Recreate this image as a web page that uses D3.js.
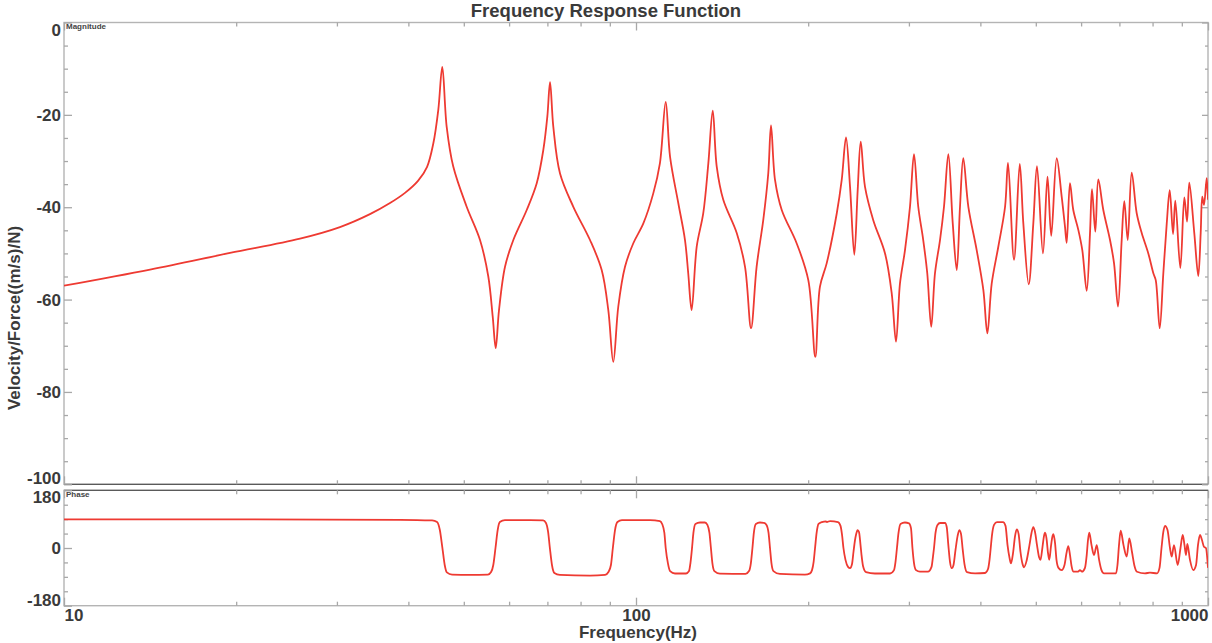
<!DOCTYPE html>
<html>
<head>
<meta charset="utf-8">
<script src="https://cdn.jsdelivr.net/npm/d3@7"></script>
<style>
  body { margin: 0; background: #fff; }
  text { font-family: "Liberation Sans", Arial, sans-serif; }
</style>
</head>
<body>
<svg id="chart" width="1212" height="643"></svg>
<script>
// magnitude curve (Hz, dB)
var magFreq = [
  10, 14.14, 19.51, 25.86, 30.37, 34.27, 37.15, 39.46, 41.58, 43.11, 44.22,
  45.12, 45.85, 46.67, 47.92, 50.58, 53.37, 55.18, 56.17, 56.85, 57.61,
  59.02, 61.03, 64.41, 67.06, 68.86, 69.98, 70.75, 71.69, 73.65, 77.7,
  83.1, 87.1, 89.45, 91.26, 93.12, 95.67, 98.92, 103.0, 107.2, 110.1,
  112.7, 114.7, 118.6, 121.8, 123.4, 125.1, 127.7, 131.1, 133.8, 136.2,
  138.4, 142.1, 150.0, 155.1, 158.9, 162.5, 166.9, 170.3, 172.2, 175.0,
  179.8, 190.9, 200.1, 205.8, 209.7, 215.5, 224.4, 228.9, 232.9, 236.7,
  240.8, 244.1, 247.1, 251.4, 259.9, 272.5, 279.9, 284.8, 289.4, 295.3,
  301.3, 306.2, 311.5, 317.8, 323.0, 328.2, 333.2, 340.0, 345.5, 351.6,
  357.9, 363.7, 368.5, 373.4, 381.1, 394.1, 404.8, 411.4, 418.7, 430.0,
  441.8, 447.1, 458.0, 468.7, 475.5, 485.9, 495.0, 502.4, 514.6, 524.1,
  532.0, 543.9, 554.9, 562.3, 566.2, 573.7, 581.4, 593.3, 602.9, 613.7,
  621.9, 626.9, 635.3, 643.0, 656.1, 674.1, 685.0, 696.1, 706.5, 714.0,
  723.8, 735.6, 750.5, 765.8, 786.4, 802.5, 810.3, 823.3, 835.4, 847.0,
  857.2, 868.7, 876.7, 894.6, 909.1, 919.0, 927.5, 946.3, 961.6, 971.0,
  977.2, 984.0, 994.7, 1000
];
var magDb = [
  -57.0, -53.5, -49.9, -46.8, -44.3, -41.5, -39.1, -36.9, -34.3, -31.3, -26.2,
  -18.9, -9.6, -22.6, -31.2, -39.9, -47.1, -55.0, -63.7, -70.5, -62.3,
  -52.9, -47.1, -40.6, -34.8, -27.6, -20.4, -12.9, -22.6, -32.7, -39.9,
  -47.1, -53.6, -62.3, -73.5, -61.5, -52.9, -47.8, -43.5, -37.0, -30.5,
  -17.2, -29.1, -39.2, -47.1, -54.3, -62.3, -48.5, -41.3, -30.5, -19.1,
  -31.2, -38.4, -45.6, -52.9, -66.2, -52.9, -42.8, -32.7, -22.3, -34.1,
  -40.6, -47.8, -55.8, -72.4, -57.2, -52.1, -41.3, -34.1, -24.9, -35.6,
  -50.3, -36.3, -25.8, -35.6, -42.8, -50.0, -58.6, -69.1, -56.5, -49.3,
  -39.9, -28.5, -39.9, -47.1, -54.3, -65.9, -54.3, -47.1, -39.9, -28.5,
  -43.5, -53.6, -39.9, -29.4, -39.9, -49.3, -57.9, -67.3, -56.5, -48.5,
  -39.9, -30.4, -51.4, -30.6, -43.5, -56.7, -43.5, -31.1, -50.0, -33.4,
  -46.2, -29.4, -37.7, -44.2, -47.7, -34.8, -40.6, -44.9, -49.3, -58.1,
  -45.6, -36.1, -45.3, -34.0, -40.6, -47.1, -52.1, -61.5, -47.1, -38.7,
  -47.1, -32.5, -41.3, -45.6, -50.0, -54.3, -55.8, -66.2, -54.3, -43.5,
  -36.3, -45.8, -38.6, -53.2, -37.9, -43.1, -34.7, -45.6, -54.9, -45.6,
  -37.7, -39.5, -33.7, -38.4
];

// phase curve (Hz, degrees)
var phaseFreq = [
  10, 21.1, 38.7, 44.0, 44.9, 45.4, 45.85, 46.3, 46.7, 47.7,
  51.3, 55.1, 55.8, 56.3, 56.8, 57.3, 57.8, 59.0, 65.3, 68.8,
  69.6, 70.2, 70.7, 71.3, 72.0, 73.6, 83.1, 88.3, 89.5, 90.4,
  91.1, 91.9, 92.8, 94.5, 105.8, 110.1, 111.1, 112.1, 112.7, 113.7,
  114.7, 117.0, 122.3, 123.8, 124.5, 125.3, 126.0, 127.0, 129.4, 132.0,
  133.3, 134.4, 135.2, 136.0, 137.1, 140.2, 155.4, 157.6, 158.8, 159.8,
  160.7, 162.0, 164.7, 167.4, 169.1, 170.5, 171.5, 172.5, 173.9, 178.5,
  197.4, 201.5, 203.1, 204.4, 205.6, 206.9, 208.5, 211.4, 214.8, 215.6,
  218.4, 225.5, 227.8, 229.2, 230.5, 232.4, 234.8, 236.7, 238.6, 240.0,
  241.5, 243.5, 244.1, 245.4, 246.9, 247.9, 249.4, 252.4, 261.7, 278.0,
  282.5, 284.2, 285.9, 287.7, 290.0, 295.2, 300.1, 302.5, 304.3, 306.2,
  308.7, 313.7, 323.9, 328.6, 330.6, 331.9, 333.9, 336.6, 340.0, 347.0,
  349.3, 351.6, 354.0, 356.4, 359.0, 361.9, 364.9, 367.5, 370.0, 372.6,
  375.2, 379.0, 391.6, 407.5, 412.5, 415.0, 417.0, 419.2, 422.6, 427.7,
  438.2, 442.6, 446.2, 449.8, 452.5, 456.2, 459.9, 463.1, 466.5, 470.1,
  474.0, 476.8, 481.6, 487.4, 491.4, 495.0, 498.4, 502.4, 506.5, 509.5,
  513.6, 516.7, 518.9, 521.9, 525.2, 527.9, 531.5, 534.3, 536.5, 540.2,
  543.4, 547.8, 554.9, 561.2, 565.7, 569.9, 573.8, 577.3, 581.4, 592.8,
  597.3, 602.1, 609.4, 613.7, 616.9, 620.1, 625.7, 632.0, 639.0, 645.1,
  651.3, 657.9, 690.6, 694.6, 698.9, 703.6, 711.7, 721.0, 728.4, 736.4,
  743.9, 751.4, 776.0, 791.7, 814.5, 822.7, 829.3, 835.4, 841.2, 849.6,
  858.1, 864.0, 872.0, 885.2, 895.2, 903.2, 909.8, 915.2, 920.1, 930.0,
  942.5, 953.0, 960.5, 968.2, 976.0, 983.8, 991.7, 1000
];
var phaseDeg = [
  89, 89, 88, 86, 81, 56, 3, -53, -76, -83,
  -84, -83, -75, -53, 0, 56, 81, 87, 87, 86,
  78, 50, 0, -53, -78, -84, -86, -84, -75, -53,
  0, 56, 81, 87, 87, 84, 75, 47, 0, -47,
  -72, -79.5, -79.5, -72, -47, 0, 47, 75, 79.5, 79.5,
  72, 47, 0, -47, -72, -80, -81, -72, -47, 0,
  47, 75, 79.5, 78, 72, 47, 0, -47, -72, -81,
  -83, -79, -69, -44, 0, 47, 75, 81, 83, 81,
  84, 81, 69, 41, 0, -37, -59, -63, -50, -12.5,
  25, 53, 56, 50, 9, -22, -56, -75, -79.5, -79.5,
  -69, -44, 0, 47, 75, 79.5, 77, 62, 0, -47,
  -69, -74, -74, -59, -25, 0, 47, 72, 78, 78,
  65.5, 9, -44, -63, -53, -6, 37, 56, 44, -6,
  -50, -75, -79, -78, -65.5, -37, 0, 41, 72, 81,
  81, 69, 9, -31, -48, -16, 37, 58, 44, -12.5,
  -50, -60, -41, 9, 47, 65, 50, 9, -28, -37,
  3, 37, 48, 31, -16, -37, 6, 34, 43, 16,
  -37, -62, -69, -53, -16, 6, -22, -56, -74, -74,
  -69, -74, -62, -22, 25, 48, 9, -22, 9, -37,
  -69, -79, -79, -53, 9, 54, 9, -27, 30, -12.5,
  -56, -74, -79, -77, -79, -62, 0, 50, 69, 56,
  0, -27, 9, -53, 0, 41, 9, -22, 12.5, -37,
  -69, -53, 9, 41, 25, 4, 0, -62
];

// axis ticks
var freqMajor = [10, 100, 1000];
var freqMinor = [20, 30, 40, 50, 60, 70, 80, 90, 200, 300, 400, 500, 600, 700, 800, 900];
var magMajor = [0, -20, -40, -60, -80, -100];
var magMinor = [-5, -10, -15, -25, -30, -35, -45, -50, -55, -65, -70, -75, -85, -90, -95];
var phaseMajor = [180, 0, -180];
var phaseMinor = [135, 90, 45, -45, -90, -135];

var svg = d3.select("#chart");
var left = 64, right = 1208;
var magTop = 22.5, magBottom = 484.3;
var phTop = 490.3, phBottom = 605.7;

var x = d3.scaleLog().domain([10, 1000]).range([left, right]);
var yMag = d3.scaleLinear().domain([-100, 0]).range([magBottom, magTop]);
var yPh = d3.scaleLinear().domain([-180, 180]).range([phBottom, phTop]);

var tickColor = "#a8a8a8";
var labelColor = "#3a3a3a";
var lineColor = "#ee3a32";
var plain = function (d) { return String(d); };  // keeps the ASCII hyphen

// clip paths
var defs = svg.append("defs");
defs.append("clipPath").attr("id", "clipMag").append("rect")
  .attr("x", left).attr("y", magTop).attr("width", right - left).attr("height", magBottom - magTop);
defs.append("clipPath").attr("id", "clipPh").append("rect")
  .attr("x", left).attr("y", phTop).attr("width", right - left).attr("height", phBottom - phTop);

function styleAxis(g) {
  g.select(".domain").remove();
  g.selectAll(".tick line").attr("stroke", tickColor).attr("stroke-width", 1.3);
  g.selectAll(".tick text")
    .attr("fill", labelColor)
    .style("font-size", "17px")
    .style("font-weight", "bold");
}

// frames
svg.append("rect")
  .attr("x", left).attr("y", magTop)
  .attr("width", right - left).attr("height", magBottom - magTop)
  .attr("fill", "none").attr("stroke", "#b4b4b4").attr("stroke-width", 1.4);
svg.append("rect")
  .attr("x", left).attr("y", phTop)
  .attr("width", right - left).attr("height", phBottom - phTop)
  .attr("fill", "none").attr("stroke", "#b4b4b4").attr("stroke-width", 1.4);
svg.append("line")
  .attr("x1", left).attr("x2", right).attr("y1", magBottom).attr("y2", magBottom)
  .attr("stroke", "#5a5a5a").attr("stroke-width", 1.3);
svg.append("line")
  .attr("x1", left).attr("x2", right).attr("y1", phTop).attr("y2", phTop)
  .attr("stroke", "#5a5a5a").attr("stroke-width", 1.3);

// y axes, magnitude
svg.append("g").attr("transform", "translate(" + left + ",0)")
  .call(d3.axisLeft(yMag).tickValues(magMinor).tickSize(-4).tickFormat(""))
  .call(styleAxis);
svg.append("g").attr("transform", "translate(" + left + ",0)")
  .call(d3.axisLeft(yMag).tickValues(magMajor).tickSize(-8).tickPadding(3).tickFormat(plain))
  .call(styleAxis)
  .selectAll(".tick text")
  .attr("dy", function (d) { return d == 0 ? "0.75em" : d == -100 ? "-0.05em" : "0.32em"; });
svg.append("g").attr("transform", "translate(" + right + ",0)")
  .call(d3.axisRight(yMag).tickValues(magMinor).tickSize(-3).tickFormat(""))
  .call(styleAxis);
svg.append("g").attr("transform", "translate(" + right + ",0)")
  .call(d3.axisRight(yMag).tickValues(magMajor).tickSize(-6).tickFormat(""))
  .call(styleAxis);

// y axes, phase
svg.append("g").attr("transform", "translate(" + left + ",0)")
  .call(d3.axisLeft(yPh).tickValues(phaseMinor).tickSize(-4).tickFormat(""))
  .call(styleAxis);
svg.append("g").attr("transform", "translate(" + left + ",0)")
  .call(d3.axisLeft(yPh).tickValues(phaseMajor).tickSize(-8).tickPadding(3).tickFormat(plain))
  .call(styleAxis)
  .selectAll(".tick text")
  .attr("dy", function (d) { return d == 180 ? "0.72em" : d == -180 ? "-0.02em" : "0.32em"; });
svg.append("g").attr("transform", "translate(" + right + ",0)")
  .call(d3.axisRight(yPh).tickValues(phaseMinor).tickSize(-3).tickFormat(""))
  .call(styleAxis);

// x ticks on every panel edge
[[magTop, "top"], [magBottom, "bottom"], [phTop, "top"], [phBottom, "bottom"]].forEach(function (e) {
  var mk = e[1] == "top" ? d3.axisTop : d3.axisBottom;
  svg.append("g").attr("transform", "translate(0," + e[0] + ")")
    .call(mk(x).tickValues(freqMinor).tickSize(-4).tickFormat(""))
    .call(styleAxis);
  svg.append("g").attr("transform", "translate(0," + e[0] + ")")
    .call(mk(x).tickValues(freqMajor).tickSize(-8).tickFormat(""))
    .call(styleAxis);
});

// frequency labels
svg.append("g").attr("transform", "translate(0," + phBottom + ")")
  .call(d3.axisBottom(x).tickValues(freqMajor).tickSize(0).tickPadding(3).tickFormat(plain))
  .call(styleAxis)
  .selectAll(".tick text")
  .attr("text-anchor", function (d) { return d == 10 ? "start" : d == 1000 ? "end" : "middle"; });

// curves
var magLine = d3.line()
  .x(function (i) { return x(magFreq[i]); })
  .y(function (i) { return yMag(magDb[i]); })
  .curve(d3.curveCatmullRom.alpha(0.5));
var phLine = d3.line()
  .x(function (i) { return x(phaseFreq[i]); })
  .y(function (i) { return yPh(phaseDeg[i]); })
  .curve(d3.curveMonotoneX);

svg.append("path")
  .attr("clip-path", "url(#clipMag)")
  .attr("d", magLine(d3.range(magFreq.length)))
  .attr("fill", "none").attr("stroke", lineColor).attr("stroke-width", 1.8)
  .attr("stroke-linejoin", "round");
svg.append("path")
  .attr("clip-path", "url(#clipPh)")
  .attr("d", phLine(d3.range(phaseFreq.length)))
  .attr("fill", "none").attr("stroke", lineColor).attr("stroke-width", 1.8)
  .attr("stroke-linejoin", "round");

// panel tags
svg.append("text").attr("x", left + 2).attr("y", magTop + 6.5)
  .attr("fill", "#444").style("font-size", "8px").style("font-weight", "bold")
  .text("Magnitude");
svg.append("text").attr("x", left + 2).attr("y", phTop + 6.5)
  .attr("fill", "#444").style("font-size", "8px").style("font-weight", "bold")
  .text("Phase");

// titles
svg.append("text").attr("x", 606).attr("y", 17)
  .attr("text-anchor", "middle").attr("fill", labelColor)
  .style("font-size", "18.5px").style("font-weight", "bold")
  .text("Frequency Response Function");
svg.append("text").attr("x", 638).attr("y", 638)
  .attr("text-anchor", "middle").attr("fill", labelColor)
  .style("font-size", "17px").style("font-weight", "bold")
  .text("Frequency(Hz)");
svg.append("text")
  .attr("transform", "translate(20,318) rotate(-90)")
  .attr("text-anchor", "middle").attr("fill", labelColor)
  .style("font-size", "17px").style("font-weight", "bold")
  .text("Velocity/Force((m/s)/N)");
</script>
</body>
</html>
